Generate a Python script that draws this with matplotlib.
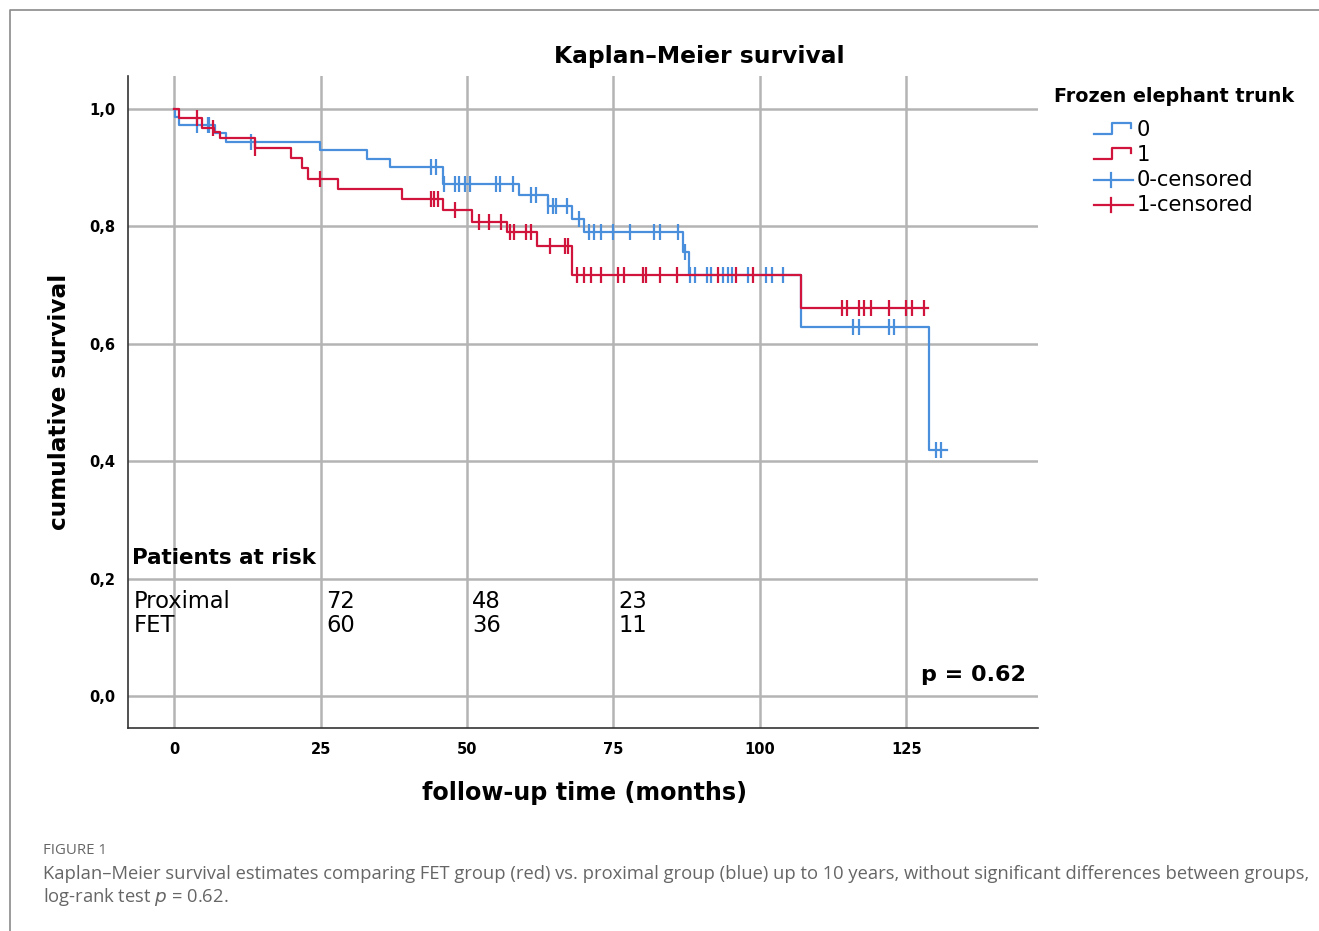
import numpy as np
import matplotlib
matplotlib.use("Agg")
import matplotlib.pyplot as plt
from matplotlib.lines import Line2D

# ---------------- data ----------------
blue_step_t = [0, 0.1, 0.85, 7.0, 8.8, 24.9, 32.9, 36.9, 45.9, 58.9, 63.8, 67.9, 69.9, 86.9, 87.9, 107.1, 128.9]
blue_step_s = [1.0, 0.987, 0.973, 0.959, 0.944, 0.930, 0.914, 0.901, 0.872, 0.854, 0.834, 0.812, 0.790, 0.756, 0.717, 0.629, 0.420]
blue_end = 131.9
blue_censor_t = [3.9, 5.7, 6.0, 13.1, 43.9, 44.7, 46.0, 47.9, 48.7, 49.6, 50.5, 55.0, 55.6, 57.9,
                 61.0, 61.8, 63.9, 64.7, 65.2, 67.0, 69.1, 70.9, 71.6, 72.8, 75.0, 77.9, 81.9, 82.9,
                 86.0, 87.3, 88.0, 88.9, 90.9, 91.7, 93.7, 94.6, 95.2, 98.0, 101.1, 102.0, 104.0,
                 115.9, 117.0, 122.0, 122.9, 130.1, 130.9]

red_step_t = [0, 0.85, 4.8, 6.8, 7.8, 13.8, 19.9, 21.8, 22.9, 27.9, 38.9, 45.9, 50.9, 56.8, 61.9, 67.9, 107.1]
red_step_s = [1.0, 0.984, 0.968, 0.960, 0.950, 0.933, 0.917, 0.899, 0.881, 0.863, 0.846, 0.828, 0.808, 0.790, 0.767, 0.717, 0.661]
red_end = 128.8
red_censor_t = [3.9, 6.7, 13.8, 24.9, 43.9, 44.4, 45.0, 47.9, 52.0, 53.8, 55.8, 57.3, 58.0, 60.0,
                61.0, 64.1, 66.8, 67.2, 68.8, 69.9, 71.1, 72.8, 75.8, 76.8, 80.1, 80.6, 82.9, 85.9,
                92.9, 96.0, 98.9, 114.0, 114.9, 117.0, 117.8, 118.9, 122.0, 125.0, 125.9, 128.1]

risk_times = [25, 50, 75]
risk_proximal = [72, 48, 23]
risk_fet = [60, 36, 11]
group_names = ["Proximal", "FET"]
x_ticks = [0, 25, 50, 75, 100, 125]
y_ticks = [0.0, 0.2, 0.4, 0.6, 0.8, 1.0]
y_tick_labels = ["0,0", "0,2", "0,4", "0,6", "0,8", "1,0"]
legend_labels = ["0", "1", "0-censored", "1-censored"]
p_text = "p = 0.62"

BLUE = "#4a8fdc"
RED = "#d1143c"
GRID = "#b4b4b4"

W, H = 1319, 931
fig = plt.figure(figsize=(W / 100, H / 100), dpi=100)

def fx(px):
    return px / W

def fy(py):
    return 1 - py / H

ax = fig.add_axes([fx(128), fy(728), fx(1038) - fx(128), fy(76) - fy(728)])
ax.set_xlim(-7.9, 147.5)
ax.set_ylim(-0.054, 1.056)

for t in x_ticks:
    ax.axvline(t, color=GRID, lw=1.8, zorder=0)
for v in y_ticks:
    ax.axhline(v, color=GRID, lw=1.8, zorder=0)


def draw_curve(st, ss, end, ct, color, z):
    t = list(st) + [end]
    s = list(ss) + [ss[-1]]
    ax.step(t, s, where="post", color=color, lw=1.6, zorder=z)
    st_arr = np.array(st)
    idx = np.searchsorted(st_arr, np.array(ct), side="right") - 1
    cy = np.array(ss)[idx]
    ax.plot(ct, cy, ls="none", marker="|", ms=11, mew=1.6, color=color, zorder=z)


draw_curve(blue_step_t, blue_step_s, blue_end, blue_censor_t, BLUE, 3)
draw_curve(red_step_t, red_step_s, red_end, red_censor_t, RED, 4)

ax.set_xticks(x_ticks)
ax.set_xticklabels([str(t) for t in x_ticks], fontsize=10.5, fontweight="bold")
ax.set_yticks(y_ticks)
ax.set_yticklabels(y_tick_labels, fontsize=10.5, fontweight="bold")
ax.tick_params(length=0, pad=9)
ax.tick_params(axis="x", pad=10)
for side in ["top", "right"]:
    ax.spines[side].set_visible(False)
for side in ["left", "bottom"]:
    ax.spines[side].set_color("#333333")
    ax.spines[side].set_linewidth(1.2)

# risk table
ax.text(-7.2, 0.236, "Patients at risk", fontsize=15.4, fontweight="bold", va="center", ha="left")
ax.text(-6.9, 0.162, group_names[0], fontsize=16.3, va="center", ha="left")
ax.text(-6.9, 0.121, group_names[1], fontsize=16.3, va="center", ha="left")
for t, a, b in zip(risk_times, risk_proximal, risk_fet):
    ax.text(t + 0.9, 0.162, str(a), fontsize=16.3, va="center", ha="left")
    ax.text(t + 0.9, 0.121, str(b), fontsize=16.3, va="center", ha="left")
ax.text(145.5, 0.036, p_text, fontsize=16, fontweight="bold", va="center", ha="right")

# titles and labels
fig.text(fx(699), fy(57), "Kaplan\u2013Meier survival", fontsize=16.8, fontweight="bold", ha="center", va="center")
fig.text(fx(60), fy(402), "cumulative survival", fontsize=16.7, fontweight="bold", ha="center", va="center", rotation=90)
fig.text(fx(584), fy(793), "follow-up time (months)", fontsize=17.2, fontweight="bold", ha="center", va="center")

# legend (drawn manually)
fig.text(fx(1054), fy(97), "Frozen elephant trunk", fontsize=13.8, fontweight="bold", ha="left", va="center")
rows = [130, 155, 180, 205]
for i, (lab, col) in enumerate(zip(legend_labels, [BLUE, RED, BLUE, RED])):
    y = rows[i]
    if i < 2:
        xs = [1094, 1112, 1112, 1131, 1131]
        ys = [y + 4, y + 4, y - 7, y - 7, y - 2]
        fig.add_artist(Line2D([fx(v) for v in xs], [fy(v) for v in ys], color=col, lw=1.6))
    else:
        fig.add_artist(Line2D([fx(1094), fx(1133)], [fy(y), fy(y)], color=col, lw=1.6))
        fig.add_artist(Line2D([fx(1111), fx(1111)], [fy(y - 7), fy(y + 7)], color=col, lw=1.6))
    fig.text(fx(1137), fy(y), lab, fontsize=15.1, ha="left", va="center")

# figure frame
fig.add_artist(Line2D([fx(10), fx(10), fx(W)], [fy(H), fy(10), fy(10)], color="#8a8a8a", lw=1.2))

# caption
fig.text(fx(43), fy(851), "FIGURE 1", fontsize=10.8, color="#666666", ha="left", va="center", family="Open Sans")
fig.text(fx(43), fy(874),
         "Kaplan\u2013Meier survival estimates comparing FET group (red) vs. proximal group (blue) up to 10 years, without significant differences between groups,",
         fontsize=13.2, color="#666666", ha="left", va="center", family="Open Sans")
fig.text(fx(43), fy(897), "log-rank test $p$ = 0.62.", fontsize=13.2, color="#666666", ha="left", va="center", family="Open Sans")

fig.savefig("out.png", dpi=100, facecolor="white")
